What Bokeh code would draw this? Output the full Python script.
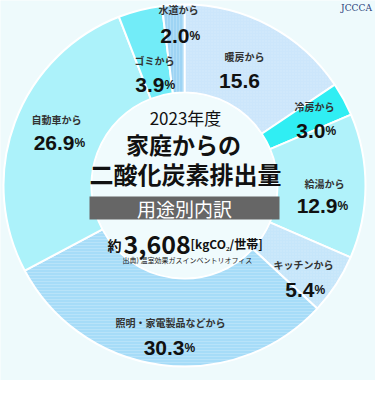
from math import pi
from bokeh.plotting import figure
from bokeh.models import ColumnDataSource, Range1d
from bokeh.core.properties import value
from bokeh.embed import file_html
from bokeh.resources import INLINE

# ---- data ----
categories = ["暖房から", "冷房から", "給湯から", "キッチンから",
              "照明・家電製品などから", "自動車から", "ゴミから", "水道から"]
shares = [15.6, 3.0, 12.9, 5.4, 30.3, 26.9, 3.9, 2.0]
value_labels = ["15.6", "3.0", "12.9", "5.4", "30.3", "26.9", "3.9", "2.0"]
pct_labels = ["", "%", "%", "%", "%", "%", "%", "%"]
colors = ["#CCE6FB", "#30EEF3", "#B0F2FA", "#C6E6FA",
          "#A6DCF8", "#ACF2FA", "#72ECF8", "#9ED4F4"]
hatches = ["dot", " ", " ", "dot", "horizontal_line", " ", " ", "vertical_line"]

year_label = "2023年度"
title1 = "家庭からの"
title2 = "二酸化炭素排出量"
band_label = "用途別内訳"
total_prefix = "約"
total_value = "3,608"
total_unit = "[kgCO₂/世帯]"
source_note = "出典) 温室効果ガスインベントリオフィス"

# ---- layout (reference pixel coords; y converted below) ----
H = 395
def Y(y):
    return H - y

cx, cy = 192, Y(193)
r_in, r_out = 93, 181

name_x = [252, 322, 332, 311, 178, 64, 162, 186]
name_y = [64, 114, 191, 272, 330, 127, 68, 17]
num_split = [267, 333, 345, 322, 192, 82, 172, 197]
num_base = [88, 138, 213, 297, 355, 150, 92, 43]

# ---- angles (clockwise from 12 o'clock) ----
total = sum(shares)
starts, ends = [], []
cum = 0.0
for s in shares:
    a0 = pi / 2 - 2 * pi * cum / total
    cum += s
    a1 = pi / 2 - 2 * pi * cum / total
    starts.append(a1)
    ends.append(a0)

src = ColumnDataSource(dict(cat=categories, share=shares, start=starts,
                            end=ends, color=colors, hatch=hatches))

p = figure(width=375, height=380, output_backend="svg", toolbar_location=None,
           x_range=Range1d(8, 383), y_range=Range1d(Y(388), Y(8)),
           min_border=0)
p.axis.visible = False
p.grid.visible = False
p.outline_line_color = None
p.background_fill_color = "#EEFAFC"
p.border_fill_color = "#EEFAFC"

p.annular_wedge(x=cx, y=cy, inner_radius=r_in, outer_radius=r_out,
                start_angle="start", end_angle="end", fill_color="color",
                hatch_pattern="hatch", hatch_color="white", hatch_alpha=0.2,
                hatch_scale=3, hatch_weight=1,
                line_color="white", line_width=2, source=src)
p.circle(x=cx, y=cy, radius=r_in - 1, fill_color="#F0FBFD", line_color=None)

# slice labels
lab = ColumnDataSource(dict(name=categories, nx=name_x, ny=[Y(v) for v in name_y]))
p.text(x="nx", y="ny", text="name", source=lab, text_font=value("Noto Sans CJK JP"),
       text_font_style="bold", text_font_size="10px", text_align="center",
       text_baseline="middle", text_color="#333333")
num_src = ColumnDataSource(dict(
    num=value_labels[1:], sx=num_split[1:], by=[Y(v) for v in num_base[1:]],
    pct=pct_labels[1:]))
p.text(x="sx", y="by", text="num", source=num_src, text_font=value("Liberation Sans"),
       text_font_style="bold", text_font_size="21px", text_align="right",
       text_baseline="alphabetic", text_color="#111111")
p.text(x="sx", y="by", text="pct", source=num_src, text_font=value("Liberation Sans"),
       text_font_style="bold", text_font_size="12px", text_align="left",
       text_baseline="alphabetic", text_color="#111111")
p.text(x=[247], y=[Y(88)], text=[value_labels[0]], text_font=value("Liberation Sans"),
       text_font_style="bold", text_font_size="21px", text_align="center",
       text_baseline="alphabetic", text_color="#111111")

# centre texts
cf = value("Noto Sans CJK JP")
p.text(x=[193], y=[Y(125)], text=[year_label], text_font=cf, text_font_size="17px",
       text_align="center", text_baseline="middle", text_color="#111111")
p.text(x=[191], y=[Y(151)], text=[title1], text_font=cf, text_font_style="bold",
       text_font_size="23px", text_align="center", text_baseline="middle",
       text_color="#111111")
p.text(x=[193], y=[Y(181)], text=[title2], text_font=cf, text_font_style="bold",
       text_font_size="24px", text_align="center", text_baseline="middle",
       text_color="#111111")
p.quad(left=97, right=287, top=Y(204), bottom=Y(227), fill_color="#666666",
       line_color=None)
p.text(x=[192], y=[Y(215.5)], text=[band_label], text_font=cf, text_font_size="19px",
       text_align="center", text_baseline="middle", text_color="white")
p.text(x=[129], y=[Y(252)], text=[total_prefix], text_font=cf, text_font_style="bold",
       text_font_size="14px", text_align="right", text_baseline="alphabetic",
       text_color="#111111")
p.text(x=[131], y=[Y(252)], text=[total_value], text_font=cf, text_font_style="bold",
       text_font_size="25px", text_align="left", text_baseline="alphabetic",
       text_color="#111111")
p.text(x=[198], y=[Y(251)], text=[total_unit], text_font=cf, text_font_style="bold",
       text_font_size="12px", text_align="left", text_baseline="alphabetic",
       text_color="#111111")
p.text(x=[195], y=[Y(267)], text=[source_note], text_font=cf, text_font_size="7px",
       text_align="center", text_baseline="middle", text_color="#222222")

# logo
p.text(x=[364], y=[Y(15)], text=["JCCCA"], text_font=value("DejaVu Serif"),
       text_font_size="9px", text_align="center", text_baseline="middle",
       text_color="#2A3F7A")

open("out.html", "w").write(file_html(p, INLINE))
